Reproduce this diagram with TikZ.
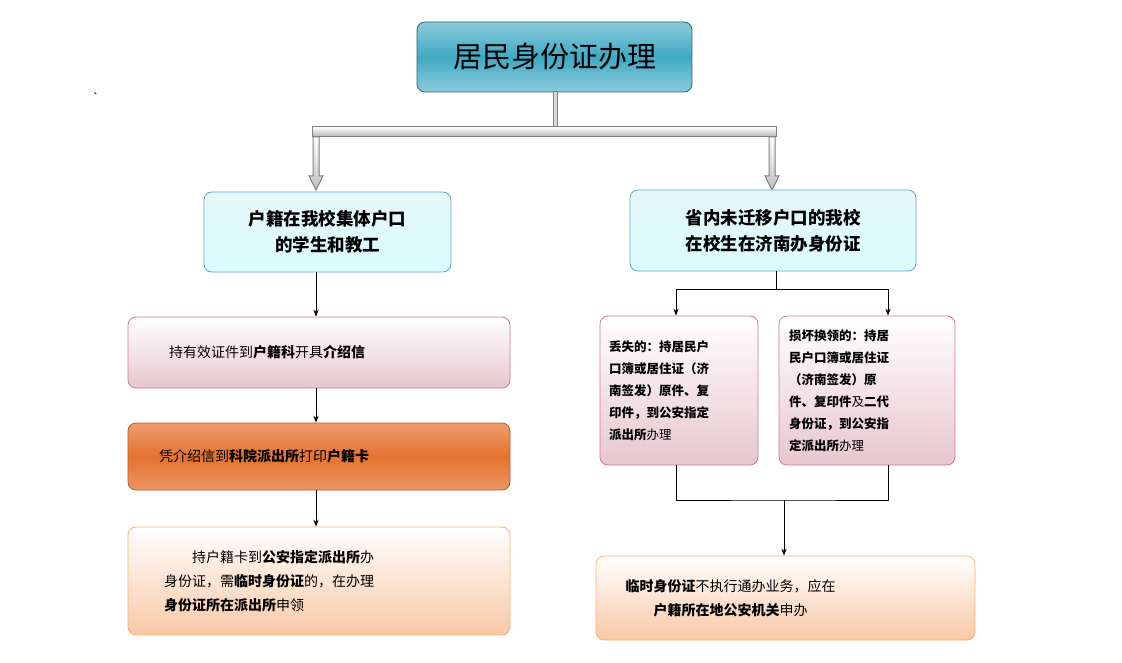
\documentclass[tikz,border=0pt]{standalone}
\usepackage{fontspec}
\setmainfont{Noto Sans CJK SC}
\usetikzlibrary{positioning,arrows.meta}
\definecolor{teal}{HTML}{3FA9C4}
\definecolor{cyanlite}{HTML}{E6F7FA}
\definecolor{pinky}{HTML}{E7C6CF}
\definecolor{orng}{HTML}{E5722F}
\definecolor{peach}{HTML}{F8C8A6}
\tikzset{
  box/.style={draw=#1!70!black, rounded corners=8pt, line width=0.8pt, align=center, inner sep=0pt},
  cyanbox/.style={box=cyan, draw=cyan!50!gray, top color=cyanlite, bottom color=cyanlite!70!cyan!40, font=\fontsize{17.5}{26}\selectfont\bfseries},
  pinkbox/.style={box=pink, draw=pinky!60!purple, top color=white, bottom color=pinky, font=\fontsize{14}{18}\selectfont},
  flow/.style={-{Stealth[length=7pt]}, line width=0.8pt},
  hollow/.style={draw=gray, line width=1pt, fill=gray!30},
}
\begin{document}
\begin{tikzpicture}[x=1pt,y=-1pt]
  \useasboundingbox (0,0) rectangle (1122,663);
  % title
  \node[box=teal, draw=teal!60!black, top color=teal!60, bottom color=teal!60, middle color=teal,
        minimum width=275pt, minimum height=70pt, font=\fontsize{29}{32}\selectfont] (title) at (554.5,57) {居民身份证办理};
  \node[font=\small] (tick) at (98,94) {、};
  % gray bar
  \fill[hollow] (553,92) rectangle (557,127);
  \fill[hollow, top color=white, bottom color=gray!60] (312,127) rectangle (776,137);
  \foreach \cx in {316,772}{
    \fill[hollow, top color=white, bottom color=gray!50] (\cx-3,137) -- (\cx+3,137) -- (\cx+3,176) -- (\cx+7,176)
      -- (\cx,190) -- (\cx-7,176) -- (\cx-3,176) -- cycle;
  }
  % first level
  \node[cyanbox, minimum width=247pt, minimum height=80pt] (local) at (327.5,232) {户籍在我校集体户口\\的学生和教工};
  \node[cyanbox, minimum width=286pt, minimum height=81pt] (province) at (773,230.5) {省内未迁移户口的我校\\在校生在济南办身份证};
  % left column
  \node[pinkbox, minimum width=382pt, minimum height=71pt] (letter) at (319,352.5)
    {\parbox{300pt}{持有效证件到\textbf{户籍科}开具\textbf{介绍信}}};
  \node[box=orange, draw=orng!80!black, top color=orng!70, bottom color=orng!75, middle color=orng,
        minimum width=382pt, minimum height=67pt, font=\fontsize{14}{18}\selectfont] (card) at (319,456.5)
    {\parbox{320pt}{凭介绍信到\textbf{科院派出所}打印\textbf{户籍卡}}};
  \node[box=orange, draw=peach!70!orange, top color=white, bottom color=peach,
        minimum width=382pt, minimum height=108pt, font=\fontsize{14}{24}\selectfont] (apply) at (319,581)
    {\parbox{310pt}{\hspace*{2em}持户籍卡到\textbf{公安指定派出所}办\\身份证，需\textbf{临时身份证}的，在办理\\\textbf{身份证所在派出所}申领}};
  \coordinate (lefttop) at (316,272);
  \draw[flow] (lefttop) -- (letter.north -| lefttop);
  \draw[flow] (letter.south -| lefttop) -- (card.north -| lefttop);
  \draw[flow] (card.south -| lefttop) -- (apply.north -| lefttop);
  % right column
  \node[pinkbox, minimum width=158pt, minimum height=149pt, font=\fontsize{12.5}{22}\selectfont\bfseries] (lost) at (679,390.5)
    {\parbox{140pt}{丢失的：持居民户\\口簿或居住证（济\\南签发）原件、复\\印件，到公安指定\\派出所\mdseries 办理}};
  \node[pinkbox, minimum width=176pt, minimum height=149pt, font=\fontsize{12.5}{22}\selectfont\bfseries] (damaged) at (867,390.5)
    {\parbox{156pt}{损坏换领的：持居\\民户口簿或居住证\\（济南签发）原\\件、复印件\mdseries 及\bfseries 二代\\身份证，到公安指\\定派出所\mdseries 办理}};
  \node[box=orange, draw=peach!70!orange, top color=white, bottom color=peach,
        minimum width=379pt, minimum height=84pt, font=\fontsize{14}{24}\selectfont] (temp) at (785.5,598)
    {\parbox{320pt}{\textbf{临时身份证}不执行通办业务，应在\\\hspace*{2em}\textbf{户籍所在地公安机关}申办}};
  \coordinate (split) at (776,289);
  \coordinate (join) at (784,500);
  \draw[line width=0.8pt] (province.south -| split) -- (split);
  \draw[flow] (split) -| (lost.north -| 676,0);
  \draw[flow] (split) -| (damaged.north -| 888,0);
  \draw[line width=0.8pt] (lost.south -| 676,0) |- (join) -| (damaged.south -| 888,0);
  \draw[flow] (join) -- (temp.north -| join);
\end{tikzpicture}
\end{document}
